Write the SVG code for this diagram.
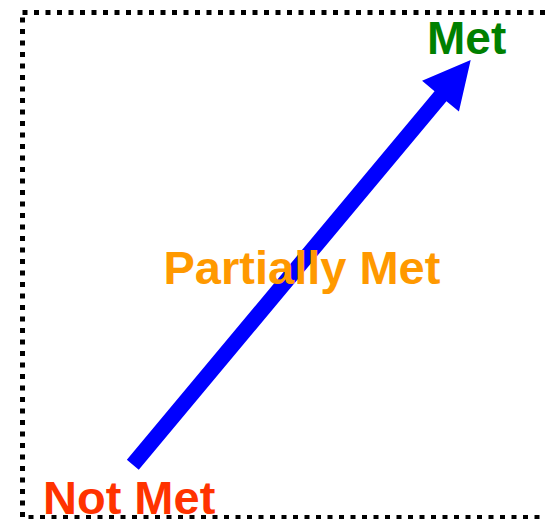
<svg xmlns="http://www.w3.org/2000/svg" width="546" height="519" viewBox="0 0 546 519">
<style>
.lbl{font-family:"Liberation Sans",Arial,sans-serif;font-weight:bold;}
</style>
<rect width="546" height="519" fill="#fff"/>
<g id="frame">
<rect x="22.5" y="12.5" width="535" height="505" fill="none" stroke="#000" stroke-width="5" stroke-dasharray="5 6.5"/>
</g>
<g id="connectors">
<polygon points="126.85,459.73 434.55,91.23 422.07,80.82 470.7,60 458.93,111.58 446.45,101.17 138.75,469.67" fill="#0000ff"/>
</g>
<g id="met"><text class="lbl" x="427" y="53.5" font-size="46" fill="#008000">Met</text></g>
<g id="partially-met"><text class="lbl" x="163.5" y="283.5" font-size="47" fill="#ff9900">Partially Met</text></g>
<g id="not-met"><text class="lbl" x="43" y="513.5" font-size="47" fill="#ff3300">Not Met</text></g>
</svg>
